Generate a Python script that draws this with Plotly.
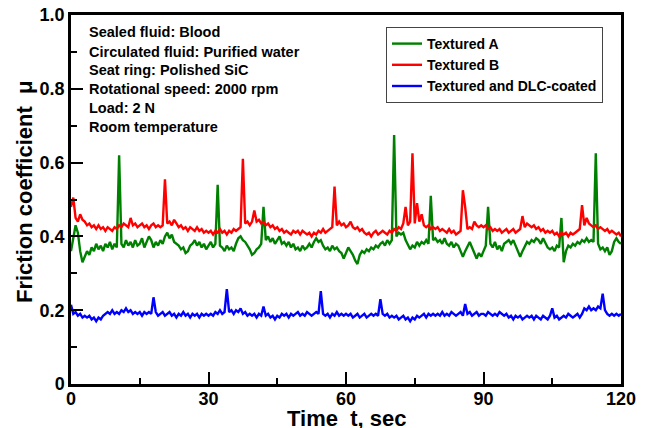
import numpy as np
import plotly.graph_objects as go

# Time grid (s), sampled every 0.5 s
time_s = np.arange(0, 120.5, 0.5)

textured_a = [
    0.36, 0.40, 0.43, 0.41, 0.36, 0.33, 0.345, 0.36, 0.35, 0.37, 0.36, 0.38, 0.365, 0.375, 0.36, 0.38, 0.37, 0.385, 0.365, 0.38,
    0.37, 0.62, 0.38, 0.37, 0.39, 0.375, 0.385, 0.37, 0.39, 0.375, 0.38, 0.395, 0.37, 0.385, 0.40, 0.39, 0.37, 0.385, 0.375, 0.39,
    0.38, 0.40, 0.41, 0.395, 0.405, 0.385, 0.38, 0.375, 0.365, 0.37, 0.355, 0.36, 0.375, 0.38, 0.39, 0.375, 0.385, 0.37, 0.38, 0.365,
    0.375, 0.385, 0.37, 0.38, 0.54, 0.375, 0.37, 0.36, 0.375, 0.365, 0.37, 0.36, 0.38, 0.395, 0.40, 0.39, 0.385, 0.375, 0.365, 0.35,
    0.355, 0.365, 0.37, 0.38, 0.48, 0.39, 0.40, 0.385, 0.395, 0.38, 0.39, 0.40, 0.38, 0.385, 0.375, 0.385, 0.37, 0.38, 0.365, 0.37,
    0.36, 0.375, 0.365, 0.37, 0.38, 0.37, 0.385, 0.395, 0.385, 0.39, 0.375, 0.365, 0.37, 0.36, 0.375, 0.365, 0.37, 0.36, 0.355, 0.34,
    0.355, 0.37, 0.36, 0.35, 0.335, 0.325, 0.35, 0.36, 0.355, 0.365, 0.36, 0.37, 0.365, 0.375, 0.37, 0.38, 0.385, 0.375, 0.39, 0.38,
    0.39, 0.675, 0.40, 0.41, 0.405, 0.41, 0.39, 0.375, 0.365, 0.375, 0.37, 0.385, 0.375, 0.385, 0.38, 0.39, 0.38, 0.51, 0.39, 0.395,
    0.385, 0.39, 0.38, 0.395, 0.38, 0.375, 0.385, 0.37, 0.38, 0.375, 0.36, 0.345, 0.36, 0.375, 0.385, 0.37, 0.355, 0.34, 0.355, 0.345,
    0.36, 0.375, 0.48, 0.38, 0.37, 0.385, 0.365, 0.375, 0.36, 0.38, 0.385, 0.39, 0.38, 0.39, 0.375, 0.36, 0.345, 0.36, 0.375, 0.385,
    0.38, 0.39, 0.385, 0.395, 0.39, 0.38, 0.395, 0.38, 0.37, 0.365, 0.37, 0.36, 0.375, 0.37, 0.45, 0.33, 0.36, 0.375, 0.37, 0.38,
    0.375, 0.385, 0.38, 0.39, 0.385, 0.395, 0.385, 0.39, 0.385, 0.625, 0.38, 0.365, 0.37, 0.36, 0.37, 0.35, 0.36, 0.385, 0.395, 0.385,
    0.38,
]

textured_b = [
    0.48, 0.505, 0.45, 0.44, 0.46, 0.445, 0.44, 0.43, 0.435, 0.425, 0.43, 0.42, 0.43, 0.42, 0.425, 0.415, 0.425, 0.42, 0.415, 0.425,
    0.42, 0.43, 0.425, 0.435, 0.43, 0.425, 0.45, 0.43, 0.435, 0.425, 0.43, 0.435, 0.425, 0.43, 0.42, 0.43, 0.435, 0.425, 0.43, 0.425,
    0.43, 0.555, 0.435, 0.44, 0.43, 0.445, 0.435, 0.425, 0.43, 0.42, 0.425, 0.415, 0.425, 0.42, 0.415, 0.425, 0.415, 0.42, 0.41, 0.415,
    0.41, 0.415, 0.405, 0.415, 0.41, 0.42, 0.41, 0.415, 0.405, 0.415, 0.41, 0.42, 0.415, 0.42, 0.425, 0.61, 0.435, 0.44, 0.43, 0.44,
    0.47, 0.44, 0.445, 0.435, 0.44, 0.43, 0.435, 0.425, 0.43, 0.42, 0.425, 0.415, 0.42, 0.41, 0.415, 0.41, 0.405, 0.415, 0.41, 0.415,
    0.405, 0.415, 0.41, 0.405, 0.41, 0.40, 0.41, 0.405, 0.415, 0.41, 0.42, 0.41, 0.415, 0.42, 0.425, 0.535, 0.43, 0.44, 0.43, 0.435,
    0.425, 0.43, 0.44, 0.425, 0.42, 0.425, 0.415, 0.42, 0.41, 0.405, 0.41, 0.40, 0.41, 0.415, 0.405, 0.41, 0.415, 0.41, 0.405, 0.415,
    0.41, 0.42, 0.415, 0.425, 0.42, 0.435, 0.48, 0.43, 0.44, 0.625, 0.435, 0.49, 0.44, 0.46, 0.43, 0.425, 0.43, 0.42, 0.425, 0.42,
    0.425, 0.415, 0.42, 0.415, 0.41, 0.42, 0.41, 0.415, 0.405, 0.41, 0.415, 0.525, 0.48, 0.42, 0.425, 0.42, 0.44, 0.43, 0.425, 0.43,
    0.425, 0.43, 0.42, 0.425, 0.415, 0.42, 0.415, 0.42, 0.41, 0.415, 0.42, 0.41, 0.415, 0.42, 0.41, 0.415, 0.42, 0.455, 0.425, 0.435,
    0.43, 0.425, 0.43, 0.42, 0.425, 0.415, 0.42, 0.41, 0.415, 0.41, 0.415, 0.405, 0.41, 0.40, 0.41, 0.405, 0.41, 0.40, 0.41, 0.405,
    0.41, 0.415, 0.42, 0.485, 0.43, 0.45, 0.435, 0.43, 0.425, 0.43, 0.42, 0.425, 0.42, 0.415, 0.42, 0.41, 0.415, 0.41, 0.405, 0.41,
    0.40,
]

textured_dlc = [
    0.215, 0.19, 0.195, 0.185, 0.19, 0.18, 0.185, 0.18, 0.185, 0.175, 0.18, 0.17, 0.18, 0.175, 0.185, 0.19, 0.195, 0.19, 0.20, 0.19,
    0.195, 0.19, 0.20, 0.195, 0.205, 0.195, 0.20, 0.19, 0.195, 0.19, 0.195, 0.185, 0.195, 0.19, 0.195, 0.19, 0.235, 0.195, 0.185, 0.19,
    0.195, 0.185, 0.19, 0.195, 0.185, 0.19, 0.18, 0.19, 0.185, 0.195, 0.185, 0.19, 0.18, 0.19, 0.185, 0.19, 0.18, 0.19, 0.185, 0.19,
    0.185, 0.19, 0.185, 0.195, 0.19, 0.20, 0.19, 0.195, 0.257, 0.195, 0.20, 0.19, 0.20, 0.195, 0.205, 0.19, 0.195, 0.185, 0.19, 0.185,
    0.19, 0.18, 0.19, 0.185, 0.21, 0.185, 0.19, 0.18, 0.185, 0.175, 0.185, 0.18, 0.19, 0.185, 0.19, 0.18, 0.19, 0.185, 0.19, 0.195,
    0.185, 0.19, 0.185, 0.195, 0.19, 0.185, 0.19, 0.195, 0.19, 0.252, 0.19, 0.185, 0.19, 0.18, 0.19, 0.185, 0.195, 0.185, 0.19, 0.185,
    0.19, 0.185, 0.19, 0.18, 0.185, 0.19, 0.18, 0.185, 0.19, 0.18, 0.185, 0.19, 0.185, 0.19, 0.185, 0.23, 0.19, 0.185, 0.19, 0.18,
    0.185, 0.18, 0.185, 0.175, 0.18, 0.185, 0.175, 0.18, 0.17, 0.18, 0.175, 0.185, 0.18, 0.185, 0.19, 0.18, 0.19, 0.185, 0.19, 0.185,
    0.19, 0.185, 0.195, 0.185, 0.19, 0.185, 0.195, 0.19, 0.185, 0.19, 0.195, 0.185, 0.217, 0.19, 0.195, 0.185, 0.19, 0.195, 0.185, 0.19,
    0.19, 0.185, 0.195, 0.19, 0.185, 0.19, 0.185, 0.195, 0.19, 0.185, 0.19, 0.18, 0.185, 0.175, 0.185, 0.18, 0.185, 0.175, 0.18, 0.185,
    0.18, 0.185, 0.175, 0.185, 0.18, 0.175, 0.185, 0.18, 0.175, 0.185, 0.205, 0.18, 0.185, 0.175, 0.18, 0.185, 0.18, 0.19, 0.185, 0.18,
    0.185, 0.19, 0.18, 0.19, 0.205, 0.20, 0.21, 0.20, 0.205, 0.20, 0.21, 0.205, 0.245, 0.20, 0.19, 0.185, 0.19, 0.185, 0.19, 0.185,
    0.19,
]

series_names = ["Textured A", "Textured B", "Textured and DLC-coated"]
series_colors = ["#008000", "#ff0000", "#0000ff"]

x_tickvals = [0, 30, 60, 90, 120]
x_ticktext = ["0", "30", "60", "90", "120"]
y_tickvals = [0, 0.2, 0.4, 0.6, 0.8, 1.0]
y_ticktext = ["0", "0.2", "0.4", "0.6", "0.8", "1.0"]

x_title = "Time  t, sec"
y_title = "Friction coefficient  μ"

info_lines = [
    "Sealed fluid: Blood",
    "Circulated fluid: Purified water",
    "Seat ring: Polished SiC",
    "Rotational speed: 2000 rpm",
    "Load: 2 N",
    "Room temperature",
]

FONT = "Liberation Sans, Arial, sans-serif"

# The page body has an 8 px margin, so the figure is sized/offset to compensate.
W, H = 646, 420
ML, MT = 63, 7
PW, PH = 550, 369
MR, MB = W - ML - PW, H - MT - PH


def py(page_y):
    """page-pixel y -> paper y"""
    return (MT + PH - (page_y - 8)) / PH


def px(page_x):
    """page-pixel x -> paper x"""
    return ((page_x - 8) - ML) / PW


fig = go.Figure()
for name, color, vals in zip(series_names, series_colors,
                             [textured_a, textured_b, textured_dlc]):
    fig.add_trace(go.Scatter(
        x=time_s, y=vals, mode="lines", name=name,
        line=dict(color=color, width=2.4),
    ))

axis_common = dict(
    showline=True, linecolor="black", linewidth=2.5, mirror=True,
    ticks="inside", ticklen=12, tickwidth=2, tickcolor="black",
    showgrid=False, zeroline=False, automargin=False,
    ticklabeloverflow="allow",
    tickfont=dict(family=FONT, size=18, color="black", weight="bold"),
)

fig.update_xaxes(
    range=[0, 120], tickvals=x_tickvals, ticktext=x_ticktext,
    minor=dict(ticks="inside", ticklen=6, tickwidth=2, tickcolor="black", dtick=15, tick0=0),
    ticklabelstandoff=-3,
    **axis_common,
)
fig.update_yaxes(
    range=[0, 1.0], tickvals=y_tickvals, ticktext=y_ticktext,
    minor=dict(ticks="inside", ticklen=6, tickwidth=2, tickcolor="black", dtick=0.1, tick0=0),
    **axis_common,
)

# axis titles
fig.add_annotation(
    xref="paper", yref="paper", x=0.5, y=py(418), xanchor="center", yanchor="middle",
    showarrow=False, text=x_title,
    font=dict(family=FONT, size=22, color="black", weight="bold"),
)
fig.add_annotation(
    xref="paper", yref="paper", x=px(25), y=py(192), xanchor="center", yanchor="middle",
    showarrow=False, text=y_title, textangle=-90,
    font=dict(family=FONT, size=22, color="black", weight="bold"),
)

line_y_px = [32, 52, 70, 89, 108, 127]
for txt, ypx in zip(info_lines, line_y_px):
    fig.add_annotation(
        xref="paper", yref="paper", x=px(87), y=py(ypx),
        xanchor="left", yanchor="middle", showarrow=False, text=txt,
        font=dict(family=FONT, size=14.5, color="black", weight="bold"),
    )

fig.update_layout(
    width=W, height=H,
    margin=dict(l=ML, r=MR, t=MT, b=MB),
    plot_bgcolor="white", paper_bgcolor="white",
    legend=dict(
        x=px(603), y=py(27), xanchor="right", yanchor="top",
        bgcolor="white", bordercolor="#444444", borderwidth=1,
        font=dict(family=FONT, size=14, color="black", weight="bold"),
        tracegroupgap=0, itemwidth=30,
    ),
)

fig.write_html("out.html")
